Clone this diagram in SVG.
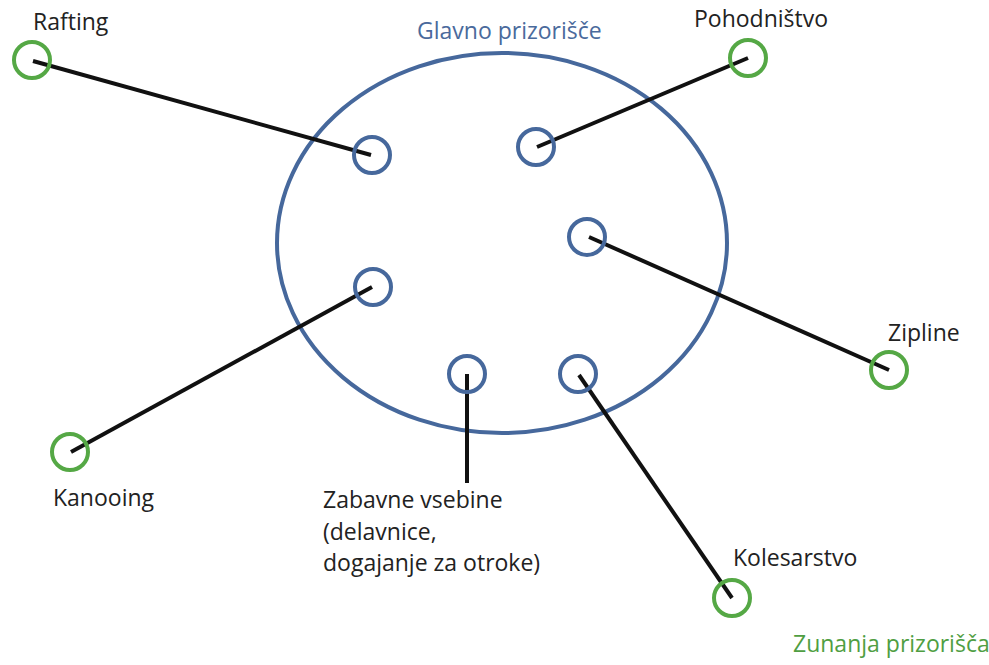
<svg xmlns="http://www.w3.org/2000/svg" width="989" height="665" viewBox="0 0 989 665">
<style>
.inner{fill:none;stroke:#46689c;stroke-width:4}
.outer{fill:none;stroke:#55a845;stroke-width:4}
.conn{stroke:#111;stroke-width:4;stroke-linecap:butt}
text{font-family:"Open Sans","Liberation Sans",sans-serif;font-size:23px;fill:#222}
.blue{fill:#4a6a9c}
.green{fill:#4f9e42}
</style>
<rect width="989" height="665" fill="#fff"/>
<g id="main-stage">
<ellipse cx="502" cy="243" rx="225" ry="190" fill="none" stroke="#46689c" stroke-width="4"/>
<text class="blue" x="417" y="39">Glavno prizorišče</text>
</g>
<g id="connectors">
<line class="conn" x1="33" y1="61" x2="371" y2="155"/>
<line class="conn" x1="537" y1="147" x2="748" y2="58"/>
<line class="conn" x1="589" y1="237" x2="889" y2="370"/>
<line class="conn" x1="372" y1="287" x2="71" y2="452"/>
<line class="conn" x1="467" y1="374" x2="467" y2="483"/>
<line class="conn" x1="579" y1="375" x2="732" y2="598"/>
</g>
<g id="in-rafting"><circle class="inner" cx="372" cy="155" r="18"/></g>
<g id="in-pohodnistvo"><circle class="inner" cx="536" cy="147" r="18"/></g>
<g id="in-zipline"><circle class="inner" cx="587" cy="237" r="18"/></g>
<g id="in-kanooing"><circle class="inner" cx="373" cy="287" r="18"/></g>
<g id="in-zabavne"><circle class="inner" cx="467" cy="374" r="18"/></g>
<g id="in-kolesarstvo"><circle class="inner" cx="578" cy="374" r="18"/></g>
<g id="rafting"><circle class="outer" cx="32" cy="60" r="18"/><text x="33" y="30">Rafting</text></g>
<g id="pohodnistvo"><circle class="outer" cx="748" cy="58" r="18"/><text x="694" y="27">Pohodništvo</text></g>
<g id="zipline"><circle class="outer" cx="889" cy="370" r="18"/><text x="888" y="341">Zipline</text></g>
<g id="kanooing"><circle class="outer" cx="70" cy="452" r="18"/><text x="53" y="506">Kanooing</text></g>
<g id="kolesarstvo"><circle class="outer" cx="732" cy="598" r="18"/><text x="733" y="566">Kolesarstvo</text></g>
<g id="zabavne"><text x="323" y="508">Zabavne vsebine</text><text x="323" y="540">(delavnice,</text><text x="323" y="571">dogajanje za otroke)</text></g>
<g id="legend-outer"><text class="green" x="793" y="652">Zunanja prizorišča</text></g>
</svg>
